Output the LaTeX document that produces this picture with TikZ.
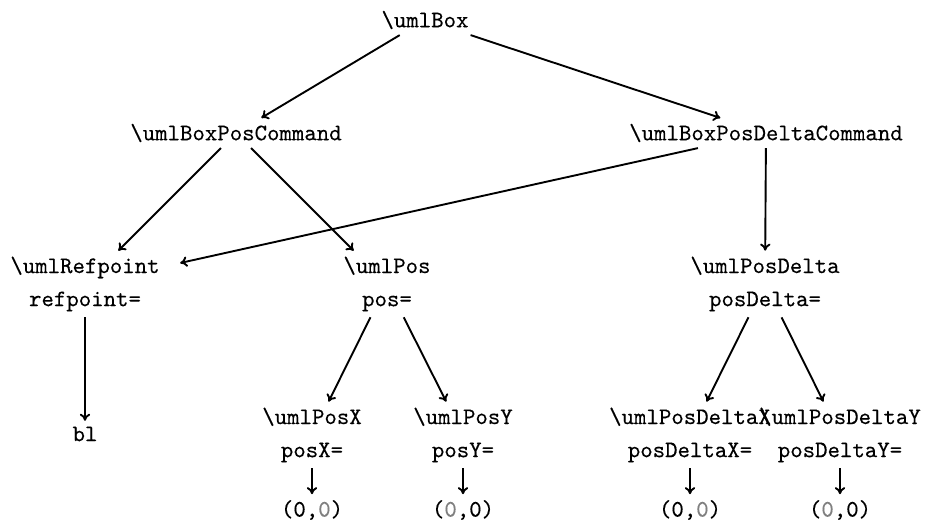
\documentclass[tikz,border=0pt]{standalone}
\usepackage{fontspec}
\setmonofont{Latin Modern Mono}[FakeBold=0.25]
\usetikzlibrary{arrows.meta}
\begin{document}
\begin{tikzpicture}[x=0.4223pt,y=-0.4223pt,
  every node/.style={font=\ttfamily, align=center, inner sep=2.3pt},
  arr/.style={-{To[length=3pt,width=4.4pt]}, line width=0.8pt}]
\useasboundingbox (0,0) rectangle (925,523);
\node (box)  at (425,20)  {\textbackslash umlBox};
\node (bpc)  at (236,133) {\textbackslash umlBoxPosCommand};
\node (bpdc) at (766,133) {\textbackslash umlBoxPosDeltaCommand};
\node[minimum width=80pt] (ref) at (85,284) {\textbackslash umlRefpoint\\[2pt]refpoint=};
\node (pos)  at (387,284) {\textbackslash umlPos\\[2pt]pos=};
\node (pd)   at (765,284) {\textbackslash umlPosDelta\\[2pt]posDelta=};
\node (bl)   at (85,434)  {bl};
\node (px)   at (312,435) {\textbackslash umlPosX\\[2pt]posX=};
\node (py)   at (463,435) {\textbackslash umlPosY\\[2pt]posY=};
\node (pdx)  at (690,435) {\textbackslash umlPosDeltaX\\[2pt]posDeltaX=};
\node (pdy)  at (840,435) {\textbackslash umlPosDeltaY\\[2pt]posDeltaY=};
\node (z1)   at (312,510) {(0,\textcolor{gray}{0})};
\node (z2)   at (463,510) {(\textcolor{gray}{0},0)};
\node (z3)   at (690,510) {(0,\textcolor{gray}{0})};
\node (z4)   at (840,510) {(\textcolor{gray}{0},0)};
\draw[arr] (box) -- (bpc);
\draw[arr] (box) -- (bpdc);
\draw[arr] (bpc) -- (ref);
\draw[arr] (bpc) -- (pos);
\draw[arr] (bpdc) -- (ref);
\draw[arr] (bpdc) -- (pd);
\draw[arr] (ref) -- (bl);
\draw[arr] (pos) -- (px);
\draw[arr] (pos) -- (py);
\draw[arr] (pd) -- (pdx);
\draw[arr] (pd) -- (pdy);
\draw[arr] (px) -- (z1);
\draw[arr] (py) -- (z2);
\draw[arr] (pdx) -- (z3);
\draw[arr] (pdy) -- (z4);
\end{tikzpicture}
\end{document}
